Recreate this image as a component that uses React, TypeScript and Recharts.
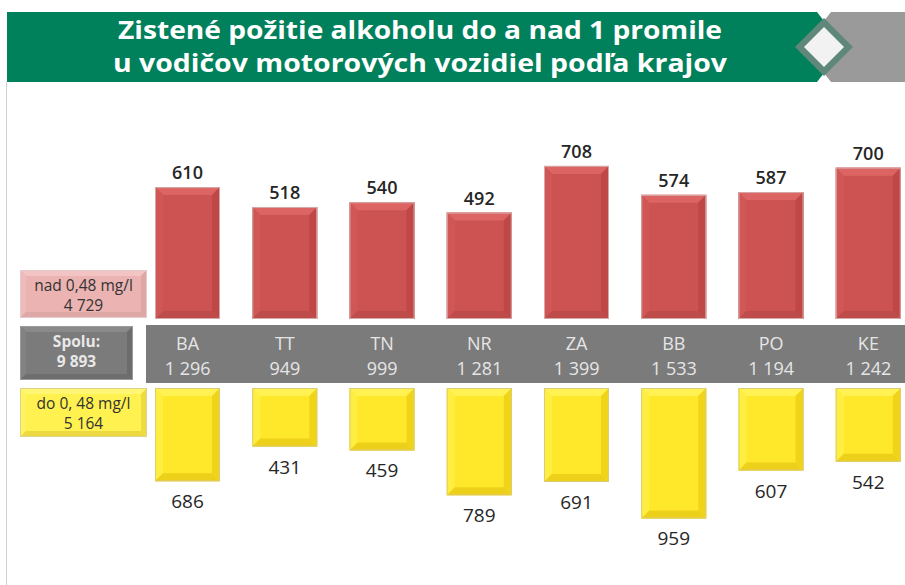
import React from "react";
import { Bar, BarChart, LabelList, XAxis, YAxis } from "recharts";

const regions = ["BA", "TT", "TN", "NR", "ZA", "BB", "PO", "KE"];
const overLimit = [610, 518, 540, 492, 708, 574, 587, 700];
const underLimit = [686, 431, 459, 789, 691, 959, 607, 542];
const regionTotals = [1296, 949, 999, 1281, 1399, 1533, 1194, 1242];
const overTotal = 4729;
const underTotal = 5164;
const grandTotal = 9893;
const titleLines = [
  "Zistené požitie alkoholu do a nad 1 promile",
  "u vodičov motorových vozidiel podľa krajov"
];

const rows = regions.map((name, i) => ({
  name,
  over: overLimit[i],
  under: underLimit[i],
  total: regionTotals[i]
}));

const font = "'Open Sans', 'DejaVu Sans', sans-serif";

type Palette = {
  face: string;
  top: string;
  left: string;
  right: string;
  bottom: string;
  edge: string;
};

const red: Palette = {
  face: "#cc5351",
  top: "#dc6563",
  left: "#d05755",
  right: "#bf4745",
  bottom: "#be4c4a",
  edge: "#d4aaa9"
};
const yellow: Palette = {
  face: "#ffe82a",
  top: "#fff252",
  left: "#ffee42",
  right: "#f0d41a",
  bottom: "#edd01a",
  edge: "#dccb78"
};
const pink: Palette = {
  face: "#ebb3b2",
  top: "#f2c4c3",
  left: "#eebbba",
  right: "#dea6a5",
  bottom: "#dea8a7",
  edge: "#e3cccc"
};
const grey: Palette = {
  face: "#7b7b7b",
  top: "#8a8a8a",
  left: "#828282",
  right: "#6c6c6c",
  bottom: "#6e6e6e",
  edge: "#9a9a9a"
};
const lightYellow: Palette = {
  face: "#fff14f",
  top: "#fff674",
  left: "#fff35f",
  right: "#eedb40",
  bottom: "#ecd840",
  edge: "#ddd38a"
};

const fmt = (v: number): string => String(v).replace(/\B(?=(\d{3})+(?!\d))/g, " ");

const Bevel = ({
  x,
  y,
  width,
  height,
  p,
  b = 8
}: {
  x: number;
  y: number;
  width: number;
  height: number;
  p: Palette;
  b?: number;
}) => {
  const t = Math.min(y, y + height);
  const h = Math.abs(height);
  const s = Math.min(b, h / 2, width / 2);
  const l = x;
  const r = x + width;
  const bt = t + h;
  return (
    <g>
      <rect x={l} y={t} width={width} height={h} fill={p.face} />
      <polygon points={`${l},${t} ${r},${t} ${r - s},${t + s} ${l + s},${t + s}`} fill={p.top} />
      <polygon points={`${l},${t} ${l + s},${t + s} ${l + s},${bt - s} ${l},${bt}`} fill={p.left} />
      <polygon points={`${r},${t} ${r},${bt} ${r - s},${bt - s} ${r - s},${t + s}`} fill={p.right} />
      <polygon points={`${l},${bt} ${r},${bt} ${r - s},${bt - s} ${l + s},${bt - s}`} fill={p.bottom} />
      <rect x={l + 0.5} y={t + 0.5} width={width - 1} height={Math.max(h - 1, 0)} fill="none" stroke={p.edge} strokeWidth={1} />
    </g>
  );
};

const redShape = (props: any) => <Bevel {...props} p={red} />;
const yellowShape = (props: any) => <Bevel {...props} p={yellow} />;

const RegionTick = (props: any) => {
  const { x, y, payload } = props;
  const total = regionTotals[regions.indexOf(payload.value)];
  return (
    <g fontFamily={font} fontSize={18} fill="#e6e6e6" textAnchor="middle">
      <text x={x} y={y + 31}>{payload.value}</text>
      <text x={x} y={y + 56}>{fmt(total)}</text>
    </g>
  );
};

const UnderLabel = (props: any) => {
  const { x, y, width, height, value } = props;
  const bottom = Math.max(y, y + height);
  return (
    <text
      x={x + width / 2}
      y={bottom + 27}
      textAnchor="middle"
      fontFamily={font}
      fontSize={19}
      fill="#262626"
    >
      {value}
    </text>
  );
};

const SideBox = ({
  x,
  y,
  w,
  h,
  p,
  lines,
  color,
  bold
}: {
  x: number;
  y: number;
  w: number;
  h: number;
  p: Palette;
  lines: string[];
  color: string;
  bold?: boolean;
}) => (
  <g>
    <Bevel x={x} y={y} width={w} height={h} p={p} b={6} />
    {lines.map((line, i) => (
      <text
        key={line}
        x={x + w / 2}
        y={y + 21 + i * 20}
        textAnchor="middle"
        fontFamily={font}
        fontSize={15.5}
        fontWeight={bold ? 700 : 400}
        fill={color}
      >
        {line}
      </text>
    ))}
  </g>
);

const Header = () => (
  <svg width={905} height={90} style={{ position: "absolute", left: 0, top: 0 }}>
    <rect x={7} y={12} width={817} height={70} fill="#00805b" />
    <rect x={824} y={12} width={81} height={70} fill="#9a9a9a" />
    <polygon points="817,12 831,12 824,21" fill="#ffffff" />
    <polygon points="817,82 831,82 824,73" fill="#ffffff" />
    <polygon points="824,18 853,47 824,76 795,47" fill="#5f887a" />
    <polygon points="824,27 844,47 824,67 804,47" fill="#f2f2f2" />
    {titleLines.map((line, i) => (
      <text
        key={line}
        x={420}
        y={39 + i * 33}
        textAnchor="middle"
        fontFamily={font}
        fontWeight={700}
        fontSize={25}
        fill="#ffffff"
        textLength={i === 0 ? 604 : 614}
        lengthAdjust="spacingAndGlyphs"
      >
        {line}
      </text>
    ))}
  </svg>
);

export default function App() {
  return (
    <div
      style={{
        position: "fixed",
        left: 0,
        top: 0,
        width: 905,
        height: 585,
        overflow: "hidden",
        background: "#ffffff",
        fontFamily: font
      }}
    >
      <div style={{ position: "absolute", left: 6, top: 82, width: 1, height: 503, background: "#cfcfcf" }} />
      <Header />
      <div style={{ position: "absolute", left: 146, top: 325, width: 759, height: 58, background: "#7b7b7b" }} />
      <svg width={160} height={200} style={{ position: "absolute", left: 0, top: 260 }}>
        <g transform="translate(0,-260)">
          <SideBox x={20} y={270} w={127} h={48} p={pink} lines={["nad 0,48 mg/l", fmt(overTotal)]} color="#333333" />
          <SideBox x={20} y={326} w={113} h={54} p={grey} lines={["Spolu:", fmt(grandTotal)]} color="#e8e8e8" bold />
          <SideBox x={20} y={388} w={127} h={49} p={lightYellow} lines={["do 0, 48 mg/l", fmt(underTotal)]} color="#333333" />
        </g>
      </svg>
      <div style={{ position: "absolute", left: 139, top: 116 }}>
        <BarChart width={778} height={267} data={rows} margin={{ top: 30, right: 0, bottom: 0, left: 0 }} barSize={65}>
          <XAxis
            dataKey="name"
            height={64}
            axisLine={false}
            tickLine={false}
            tickSize={0}
            tickMargin={0}
            interval={0}
            tick={RegionTick}
          />
          <YAxis hide domain={[0, 800]} />
          <Bar dataKey="over" isAnimationActive={false} shape={redShape}>
            <LabelList
              dataKey="over"
              position="top"
              offset={8}
              style={{ fontFamily: font, fontSize: 18, fontWeight: 600, fill: "#262626" }}
            />
          </Bar>
        </BarChart>
      </div>
      <div style={{ position: "absolute", left: 139, top: 388 }}>
        <BarChart width={778} height={180} data={rows} margin={{ top: 0, right: 0, bottom: 44, left: 0 }} barSize={65}>
          <XAxis dataKey="name" hide />
          <YAxis hide reversed domain={[0, 1000]} />
          <Bar dataKey="under" isAnimationActive={false} shape={yellowShape}>
            <LabelList dataKey="under" content={UnderLabel} />
          </Bar>
        </BarChart>
      </div>
    </div>
  );
}
